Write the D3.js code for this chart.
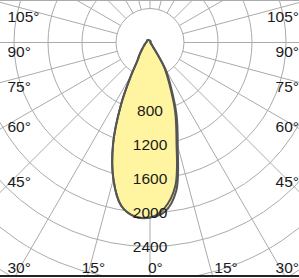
<!DOCTYPE html>
<html>
<head>
<meta charset="utf-8">
<script src="https://cdn.jsdelivr.net/npm/d3@7/dist/d3.min.js"></script>
<style>
body { margin: 0; background: #fff; }
svg { display: block; font-family: "Liberation Sans", Arial, Helvetica, sans-serif; }
</style>
</head>
<body>
<svg id="chart"></svg>
<script>
'use strict'

// gamma angles in degrees (0 = straight down, + = right side)
const gammas = [-180, -150, -135, -120, -90, -75, -60, -50, -45, -40, -35, -30, -25, -20, -15, -10, -5,
	0, 5, 10, 15, 20, 25, 30, 35, 40, 50, 90, 135]
// luminous intensity, outer curve (filled) and inner curve
const planeOuter = [20, 35, 40, 40, 45, 60, 85, 120, 150, 195, 255, 440, 810, 1270, 1665, 1950, 2055,
	2060, 2000, 1775, 1260, 915, 585, 360, 60, 25, 10, 5, 10]
const planeInner = [20, 35, 40, 40, 45, 60, 85, 120, 150, 195, 255, 440, 810, 1270, 1665, 1950, 2055,
	2060, 1955, 1715, 1205, 865, 540, 330, 60, 25, 10, 5, 10]
const ringValues = [400, 800, 1200, 1600, 2000, 2400, 2800, 3200, 3600, 4000]
const ringLabels = [800, 1200, 1600, 2000, 2400]
const sideAngles = [45, 60, 75, 90, 105]
const bottomAngles = [0, 15, 30]

const width = 299
const height = 278
const cx = 150
const cy = 42.5

const rad = (deg) => deg * Math.PI / 180

const r = d3.scaleLinear().domain([0, 2400]).range([0, 204]) // cd -> px

const svg = d3.select('#chart')
	.attr('width', width)
	.attr('height', height)

svg.append('defs').append('clipPath').attr('id', 'frame')
	.append('rect').attr('width', width).attr('height', 276)

const plot = svg.append('g')
	.attr('clip-path', 'url(#frame)')
	.append('g')
	.attr('transform', 'translate(' + cx + ',' + cy + ')')

// rings
plot.selectAll('circle.ring')
	.data(ringValues)
	.enter().append('circle')
	.attr('class', 'ring')
	.attr('r', (d) => r(d))
	.attr('fill', 'none')
	.attr('stroke', '#ababab')
	.attr('stroke-width', 1)

// spokes every 15 deg, starting on the first ring
plot.selectAll('line.spoke')
	.data(d3.range(0, 360, 15))
	.enter().append('line')
	.attr('class', 'spoke')
	.attr('x1', (d) => r(400) * Math.sin(rad(d)))
	.attr('y1', (d) => r(400) * Math.cos(rad(d)))
	.attr('x2', (d) => r(4000) * Math.sin(rad(d)))
	.attr('y2', (d) => r(4000) * Math.cos(rad(d)))
	.attr('stroke', '#ababab')
	.attr('stroke-width', 1)

// curves
const curve = d3.lineRadial()
	.angle((d) => Math.PI - rad(d[0]))
	.radius((d) => r(d[1]))
	.curve(d3.curveCatmullRomClosed)

const outer = gammas.map((g, i) => [g, planeOuter[i]])
const inner = gammas.map((g, i) => [g, planeInner[i]])

plot.append('path').attr('d', curve(outer)).attr('fill', '#fff5a0')
plot.append('path').attr('d', curve(outer))
	.attr('fill', 'none').attr('stroke', '#555').attr('stroke-width', 2)
plot.append('path').attr('d', curve(inner))
	.attr('fill', 'none').attr('stroke', '#555').attr('stroke-width', 2)

// intensity labels on the 0 deg axis
plot.selectAll('text.val')
	.data(ringLabels)
	.enter().append('text')
	.attr('class', 'val')
	.attr('x', 0)
	.attr('y', (d) => r(d))
	.attr('dy', '0.36em')
	.attr('text-anchor', 'middle')
	.attr('font-size', 15.5)
	.attr('fill', '#1a1a1a')
	.text((d) => d)

// angle labels, left and right edges
sideAngles.forEach((a) => {
	const y = cy + 130 / Math.tan(rad(a)) + 14.5
	svg.append('text').attr('x', 7.5).attr('y', y)
		.attr('font-size', 15.5).attr('fill', '#1a1a1a')
		.text(a + '°')
	svg.append('text').attr('x', 299).attr('y', y)
		.attr('text-anchor', 'end')
		.attr('font-size', 15.5).attr('fill', '#1a1a1a')
		.text(a + '°')
})

// angle labels along the bottom
const sides = [-1, 1]
bottomAngles.forEach((a) => {
	sides.forEach((s) => {
		if (a === 0 && s === 1) return
		const t = svg.append('text').attr('y', 273)
			.attr('font-size', 15.5).attr('fill', '#1a1a1a')
			.text(a + '°')
		const w = t.node().getComputedTextLength()
		let x = cx + s * (290 - cy) * Math.tan(rad(a)) - 2
		x = Math.max(7.5, Math.min(x, 299 - w))
		t.attr('x', x)
	})
})

// frame lines
svg.append('line').attr('x1', 0).attr('x2', width).attr('y1', 0.5).attr('y2', 0.5)
	.attr('stroke', '#ababab').attr('stroke-width', 1)
svg.append('line').attr('x1', 0).attr('x2', width).attr('y1', 276).attr('y2', 276)
	.attr('stroke', '#222').attr('stroke-width', 2)
</script>
</body>
</html>
